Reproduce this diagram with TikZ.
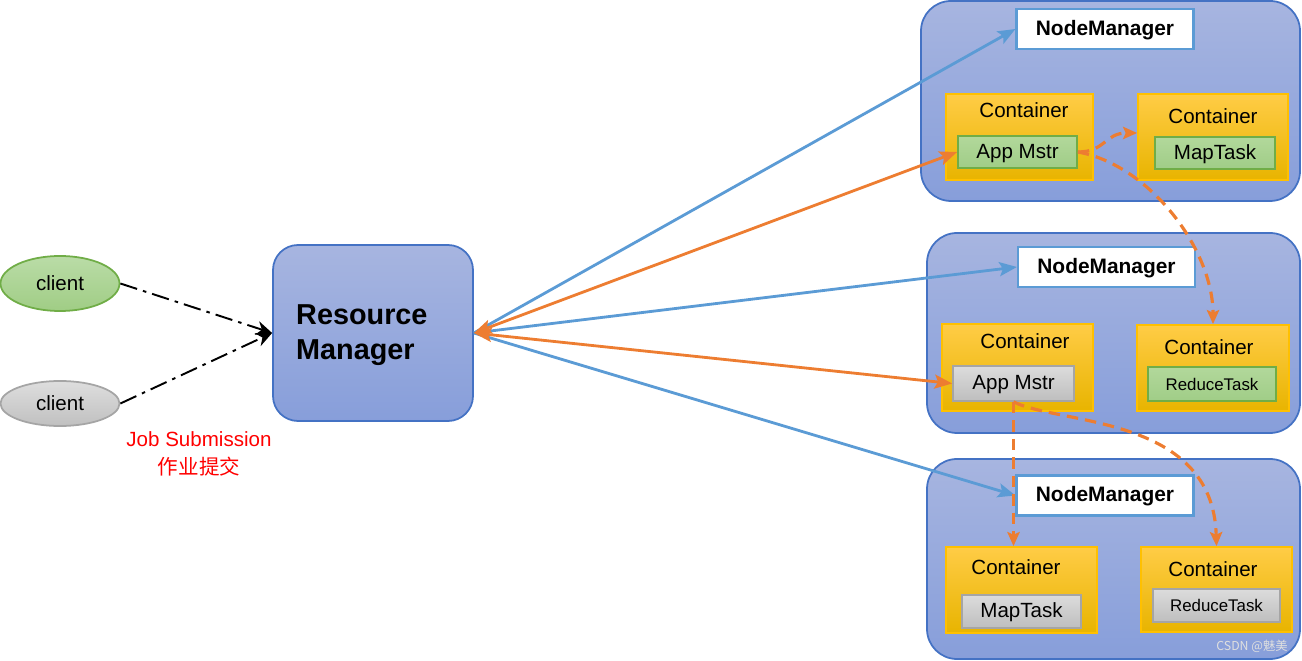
\documentclass[tikz,border=0pt]{standalone}
\usepackage{fontspec}
\setmainfont{Liberation Sans}
\newfontfamily\cjk{Noto Sans CJK SC}
\usetikzlibrary{arrows.meta,shapes.geometric}

\definecolor{boxblue}{RGB}{68,114,196}
\definecolor{lineblue}{RGB}{91,155,213}
\definecolor{lineorange}{RGB}{237,125,49}
\definecolor{contborder}{RGB}{255,192,0}
\definecolor{taskgreen}{RGB}{112,173,71}
\definecolor{taskgray}{RGB}{165,165,165}

\begin{document}
\begin{tikzpicture}[x=0.02cm,y=-0.02cm,font=\fontsize{11.7}{14}\selectfont,
	bigbox/.style={draw=boxblue,line width=1pt,top color={rgb,255:red,167;green,181;blue,224},bottom color={rgb,255:red,135;green,158;blue,218},rounded corners=0.6cm},
	nmbox/.style={draw=lineblue,line width=1.2pt,fill=white,minimum width=177*0.02cm,minimum height=40*0.02cm,text height=0.72em,text depth=0pt,font=\fontsize{11.9}{14}\selectfont\bfseries},
	contbox/.style={draw=contborder,line width=1pt,top color={rgb,255:red,255;green,204;blue,70},bottom color={rgb,255:red,232;green,180;blue,0}},
	greentask/.style={draw=taskgreen,line width=1pt,text height=0.72em,text depth=0pt,top color={rgb,255:red,178;green,216;blue,155},bottom color={rgb,255:red,160;green,205;blue,135}},
	graytask/.style={draw=taskgray,line width=1pt,text height=0.72em,text depth=0pt,top color={rgb,255:red,220;green,220;blue,220},bottom color={rgb,255:red,190;green,190;blue,190}},
	toblue/.style={draw=lineblue,line width=1.6pt,-{Stealth[length=10pt,width=8pt,inset=2pt]}},
	toorange/.style={draw=lineorange,line width=1.6pt,{Stealth[length=10pt,width=8pt,inset=2pt]}-{Stealth[length=10pt,width=8pt,inset=2pt]}},
	taskline/.style={draw=lineorange,line width=1.8pt,dash pattern=on 6.5pt off 4pt,-{Stealth[length=8pt,width=7pt,inset=1.5pt]}},
	jobline/.style={draw=black,line width=1.1pt,dash pattern=on 10pt off 3.5pt on 2pt off 3.5pt,-{Stealth[length=9pt,width=8pt]}}]

	\pgfmathsetmacro{\px}{0.02}

	\useasboundingbox (0,0) rectangle (1302,661);

	% clients
	\node[ellipse,draw=taskgreen,line width=1pt,top color={rgb,255:red,186;green,220;blue,167},bottom color={rgb,255:red,160;green,205;blue,133},minimum width=119*\px cm,minimum height=55*\px cm,inner sep=0pt] (cl1) at (60,283.5) {client};
	\node[ellipse,draw=taskgray,line width=1pt,top color={rgb,255:red,222;green,222;blue,222},bottom color={rgb,255:red,192;green,192;blue,192},minimum width=119*\px cm,minimum height=45*\px cm,inner sep=0pt] (cl2) at (60,403.5) {client};
	\node[text=red,align=center,font=\fontsize{11.7}{15.5}\selectfont] (job) at (199,454) {Job Submission\\{\cjk 作业提交}};

	% resource manager
	\node[bigbox,rounded corners=0.5cm,minimum width=200*\px cm,minimum height=176*\px cm] (rm) at (373,333) {};
	\node[anchor=west,align=left,font=\fontsize{16.4}{20}\selectfont\bfseries] (rmtext) at (290,335) {Resource\\Manager};

	% node managers
	\node[bigbox,minimum width=379*\px cm,minimum height=200*\px cm] (nmb1) at (1110.5,101) {};
	\node[bigbox,minimum width=373*\px cm,minimum height=200*\px cm] (nmb2) at (1113.5,333) {};
	\node[bigbox,minimum width=373*\px cm,minimum height=200*\px cm] (nmb3) at (1113.5,559) {};

	\node[nmbox] (nm1) at (1105,29) {NodeManager};
	\node[nmbox] (nm2) at (1106.5,267) {NodeManager};
	\node[nmbox] (nm3) at (1105,495.5) {NodeManager};

	% containers
	\node[contbox,minimum width=147*\px cm,minimum height=86*\px cm] (c11) at (1019.5,137) {};
	\node[contbox,minimum width=150*\px cm,minimum height=86*\px cm] (c12) at (1213,137) {};
	\node[contbox,minimum width=151*\px cm,minimum height=87*\px cm] (c21) at (1017.5,367.5) {};
	\node[contbox,minimum width=152*\px cm,minimum height=86*\px cm] (c22) at (1213,368) {};
	\node[contbox,minimum width=151*\px cm,minimum height=86*\px cm] (c31) at (1021.5,590) {};
	\node[contbox,minimum width=151*\px cm,minimum height=85*\px cm] (c32) at (1216.5,589.5) {};

	\node (l11) at (1024,110) {Container};
	\node (l12) at (1213,116) {Container};
	\node (l21) at (1025,341) {Container};
	\node (l22) at (1209,347) {Container};
	\node (l31) at (1016,567) {Container};
	\node (l32) at (1213,569) {Container};

	% tasks
	\node[greentask,minimum width=119*\px cm,minimum height=32*\px cm] (am1) at (1017.5,152) {App Mstr};
	\node[greentask,minimum width=120*\px cm,minimum height=32*\px cm] (mt1) at (1215,153) {MapTask};
	\node[graytask,minimum width=121*\px cm,minimum height=35*\px cm] (am2) at (1013.5,383.5) {App Mstr};
	\node[greentask,minimum width=128*\px cm,minimum height=34*\px cm,font=\fontsize{9.6}{12}\selectfont] (rt2) at (1212,384) {ReduceTask};
	\node[graytask,minimum width=119*\px cm,minimum height=33*\px cm] (mt3) at (1021.5,611.5) {MapTask};
	\node[graytask,minimum width=127*\px cm,minimum height=33*\px cm,font=\fontsize{9.6}{12}\selectfont] (rt3) at (1216.5,605.5) {ReduceTask};

	% job submission
	\draw[jobline] (cl1.east) -- (rm.west);
	\draw[jobline] (cl2.east) -- (rm.west);

	% resource manager to node managers
	\draw[toblue] (rm.east) -- (nm1.west);
	\draw[toblue] (rm.east) -- (nm2.west);
	\draw[toblue] (rm.east) -- (nm3.west);
	\draw[toorange] (rm.east) -- (am1.west);
	\draw[toorange] (rm.east) -- (am2.west);

	% app masters to tasks
	\draw[taskline] (am1.east) .. controls (1105,152) and (1105,133) .. (c12.west |- 0,133);
	\draw[taskline] (am1.east) .. controls (1150,165) and (1213,250) .. (c22.north);
	\draw[taskline] (am2.south) -- (am2.south |- c31.north);
	\draw[taskline] (am2.south) .. controls (1060,425) and (1213,415) .. (c32.north);

	\node[text=white!75!gray,font=\fontsize{7}{8}\selectfont\cjk] (mark) at (1252,646) {CSDN @魅美};

\end{tikzpicture}
\end{document}
